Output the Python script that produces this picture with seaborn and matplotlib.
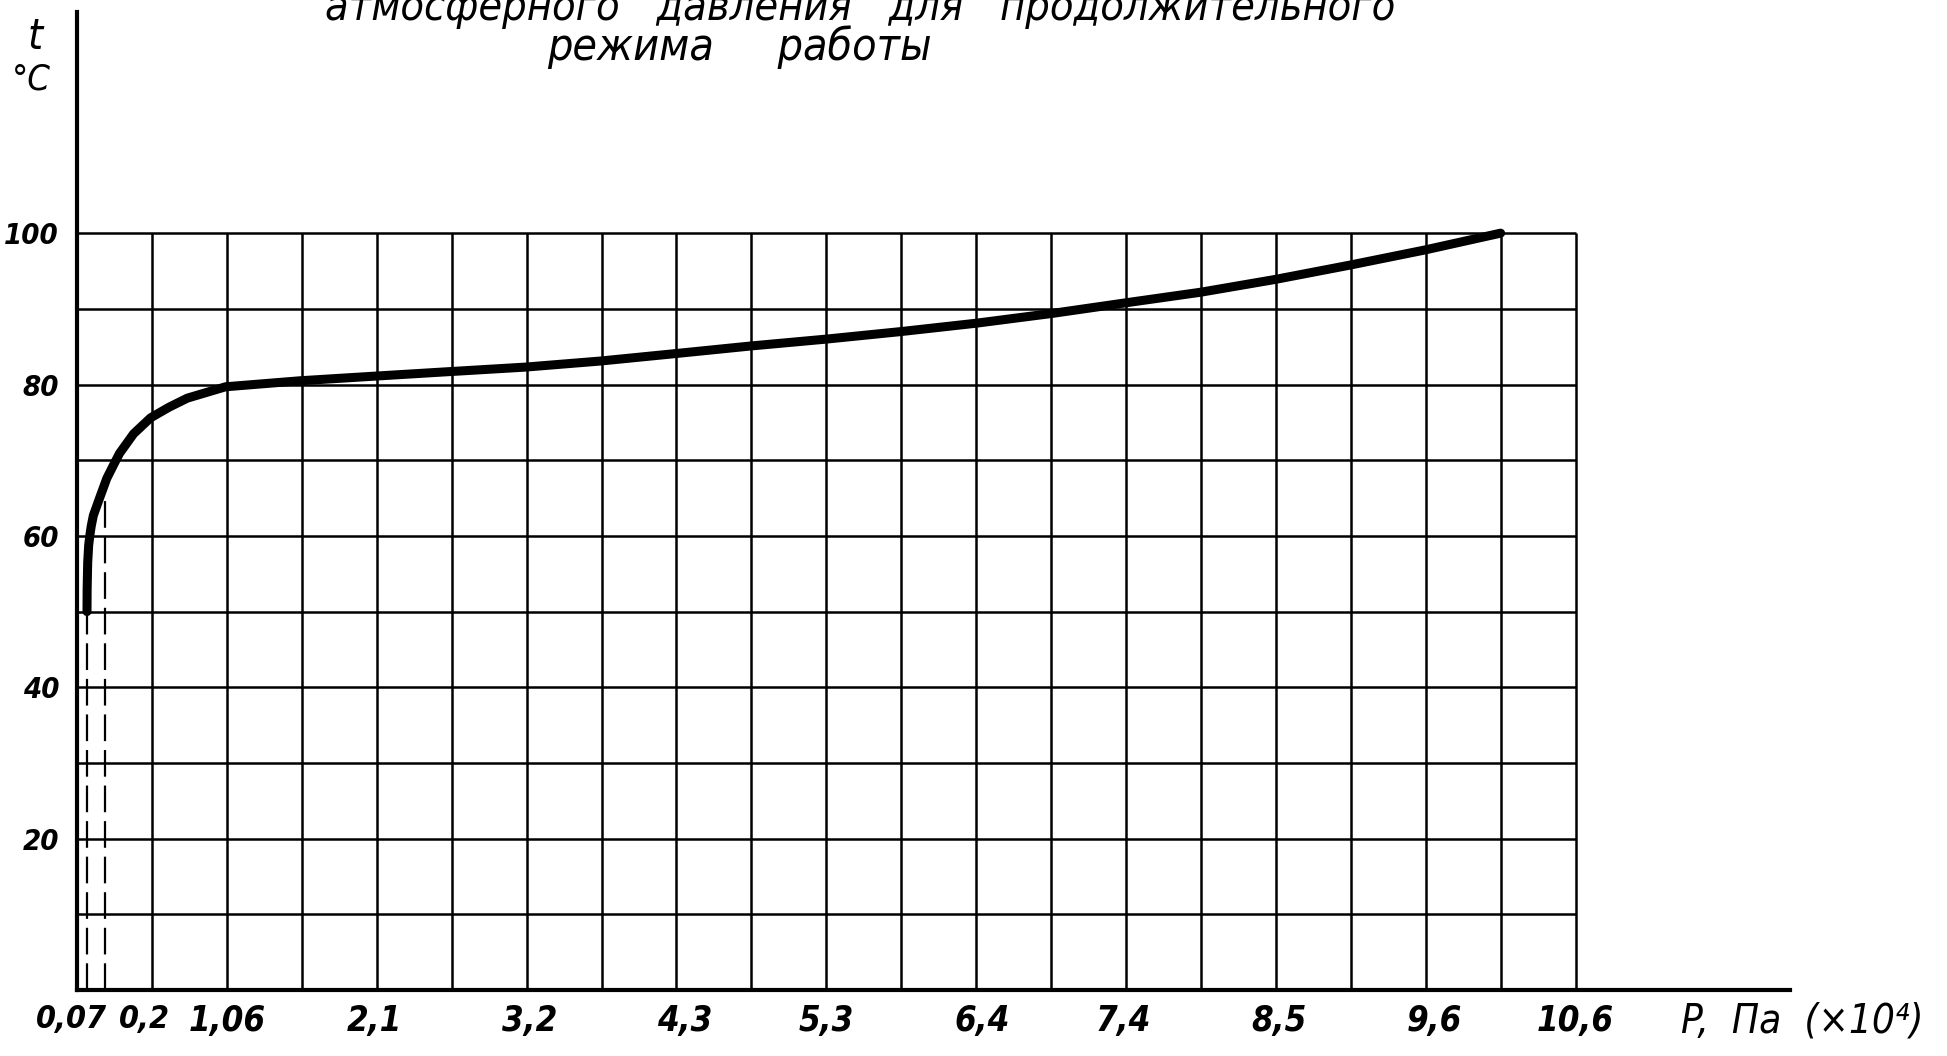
import numpy as np
import matplotlib.pyplot as plt
import matplotlib.transforms as mtransforms
import seaborn as sns

# p, Па (x10^4) -> t, °C
pressure = [0.07, 0.071, 0.075, 0.082, 0.092, 0.10, 0.115, 0.163, 0.21, 0.264, 0.30, 0.40, 0.52,
            0.65, 0.78, 1.05, 1.58, 2.10, 2.63, 3.17, 3.70, 4.24, 4.77, 5.30, 5.83, 6.36, 6.90,
            7.42, 7.95, 8.48, 9.01, 9.54, 10.07]
temperature = [50.0, 53.0, 56.5, 58.8, 60.3, 61.3, 62.7, 65.2, 67.6, 69.6, 70.9, 73.5, 75.6,
               77.0, 78.2, 79.7, 80.5, 81.1, 81.7, 82.3, 83.1, 84.1, 85.1, 86.0, 87.0, 88.1, 89.4,
               90.8, 92.2, 93.9, 95.8, 97.8, 100.0]

x_ticks = [0.07, 0.2, 1.06, 2.1, 3.2, 4.3, 5.3, 6.4, 7.4, 8.5, 9.6, 10.6]
x_tick_labels = ["0,07", "0,2", "1,06", "2,1", "3,2", "4,3", "5,3", "6,4", "7,4", "8,5", "9,6", "10,6"]
y_ticks = [20, 40, 60, 80, 100]
dashed_at = [0.07, 0.2]   # dashed drop lines from the curve

grid_x_step = 0.53
grid_x_cells = 20
grid_y_step = 10
grid_y_top = 100

title_line1 = "атмосферного   давления   для   продолжительного"
title_line2 = "режима     работы"

sns.set_theme(style="white")
plt.rcParams['font.family'] = ['DejaVu Sans']

fig = plt.figure(figsize=(19.47, 10.56), dpi=100)
ax = fig.add_axes([0.0396, 0.0625, 0.880, 0.926])
ax.set_xlim(0, 12.12)
ax.set_ylim(0, 129.2)

# hand-drawn grid box
grid_right = grid_x_step * grid_x_cells
gx = grid_x_step * np.arange(1, grid_x_cells + 1)
gy = np.arange(grid_y_step, grid_y_top + grid_y_step, grid_y_step)
ax.vlines(gx, 0, grid_y_top, color="black", lw=1.8, zorder=1)
ax.hlines(gy, 0, grid_right, color="black", lw=1.8, zorder=1)

for p in dashed_at:
    top = np.interp(p, pressure, temperature)
    ax.vlines(p, 0, top, color="black", lw=1.6, linestyles=(0, (12, 4)), zorder=2)

sns.lineplot(x=pressure, y=temperature, ax=ax, color="black", lw=6.5,
             solid_capstyle="round", solid_joinstyle="round", zorder=3)

for side in ["top", "right"]:
    ax.spines[side].set_visible(False)
for side in ["left", "bottom"]:
    ax.spines[side].set_linewidth(3)
    ax.spines[side].set_color("black")

ax.set_xticks(x_ticks, labels=x_tick_labels)
ax.set_yticks(y_ticks)
ax.tick_params(axis="x", length=9, width=1.8, direction="out", pad=1, labelsize=25, colors="black")
ax.tick_params(axis="y", length=11, width=1.8, direction="out", pad=2, labelsize=21, colors="black")
for lbl in ax.get_xticklabels() + ax.get_yticklabels():
    lbl.set_style("italic")
    lbl.set_fontstretch("condensed")
    lbl.set_fontweight("bold")

# the two crowded labels near zero: a bit smaller and nudged apart like on the drawing
xl = ax.get_xticklabels()
for lbl in xl[:2]:
    lbl.set_fontsize(23)
xl[0].set_horizontalalignment("right")
xl[0].set_transform(xl[0].get_transform() + mtransforms.ScaledTranslation(20 / 100, 0, fig.dpi_scale_trans))
xl[1].set_horizontalalignment("left")
xl[1].set_transform(xl[1].get_transform() + mtransforms.ScaledTranslation(14 / 100, 0, fig.dpi_scale_trans))
ax.set_xlabel("")
ax.set_ylabel("")

txt = dict(style="italic", color="black", fontstretch="condensed")
fig.text(35 / 1947, 1 - 37 / 1056, "t", fontsize=31, ha="center", va="center", **txt)
fig.text(31 / 1947, 1 - 80 / 1056, "°C", fontsize=26, ha="center", va="center", **txt)
fig.text(1681 / 1947, 1 - 1021 / 1056, "P,  Па  (×10⁴)", fontsize=29, ha="left", va="center", **txt)
fig.text(860 / 1947, 1 - 20 / 1056, title_line1, fontsize=31, ha="center", va="baseline", **txt)
fig.text(739 / 1947, 1 - 60 / 1056, title_line2, fontsize=32, ha="center", va="baseline", **txt)

fig.savefig("out.png", dpi=100)
